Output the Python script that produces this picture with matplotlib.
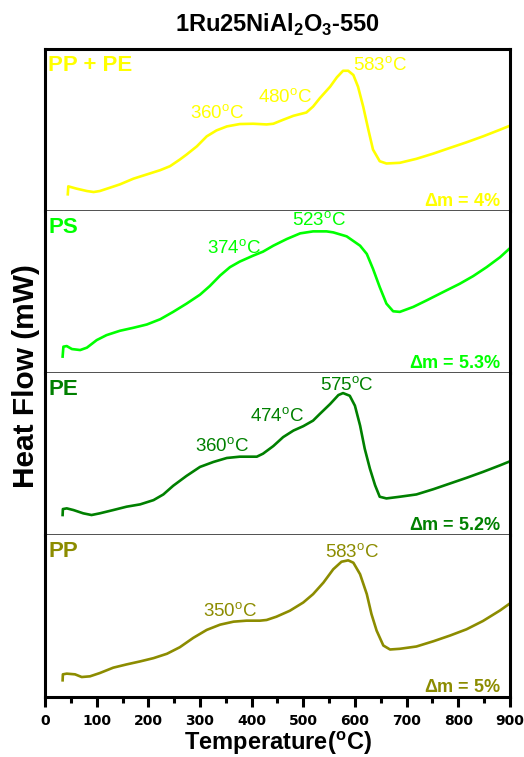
import matplotlib
matplotlib.use("Agg")
import matplotlib.pyplot as plt
from matplotlib import font_manager

# pick a condensed face for the in-panel labels if one is around
names = set(f.name for f in font_manager.fontManager.ttflist)
narrow = "Liberation Sans Narrow" if "Liberation Sans Narrow" in names else "Liberation Sans"
plt.rcParams["font.family"] = ["Liberation Sans", "DejaVu Sans"]
plt.rcParams["mathtext.fontset"] = "custom"
plt.rcParams["mathtext.rm"] = "Liberation Sans:bold"

# DSC traces, heat flow in arbitrary units (panel height ~163)
t_ppe = [44, 45, 61, 81, 94, 106, 126, 145, 171, 197, 223, 242, 261, 274, 294, 313, 332, 352, 377,
         403, 429, 442, 461, 481, 506, 519, 532, 552, 565, 577, 587, 597, 606, 616, 626, 635, 648,
         661, 687, 719, 752, 784, 816, 848, 881, 900]
hf_ppe = [17, 25, 22.7, 20.3, 19.3, 20.3, 23.7, 27, 32.7, 37, 41.3, 45.3, 52, 57, 65.3, 75.3, 81.3,
          85.3, 87.7, 88, 87.3, 88, 92, 96, 99.3, 105.3, 113.7, 125.3, 134.7, 141.3, 141.3, 137,
          125.3, 105.3, 82, 62, 50.3, 48, 48.7, 52.7, 58, 63.7, 69.3, 75.3, 82, 86]

t_ps = [34, 35.5, 42, 52, 68, 81, 100, 119, 145, 171, 197, 223, 248, 274, 300, 319, 339, 358, 377,
        403, 422, 442, 468, 494, 519, 545, 558, 584, 610, 623, 635, 648, 661, 674, 687, 713, 739,
        771, 803, 829, 855, 881, 900]
hf_ps = [16.7, 26.7, 27.3, 24.3, 23.3, 25.7, 33.3, 38.3, 42.7, 45.7, 49, 54.3, 61.7, 70, 79, 87.7,
         98.3, 106.7, 112.3, 118.3, 122.3, 128.3, 135, 140.7, 142.7, 142.7, 141.7, 137.7, 128.3,
         120, 105, 86.7, 70, 62.3, 61.7, 66.7, 73.3, 81.7, 90, 97.7, 106.7, 116.7, 125.7]

t_pe = [34, 34.5, 42, 55, 74, 90, 106, 132, 158, 184, 210, 229, 248, 274, 300, 326, 352, 377, 410,
        422, 442, 461, 481, 500, 519, 532, 552, 568, 577, 590, 600, 610, 619, 629, 639, 648, 661,
        687, 719, 752, 784, 816, 848, 881, 900]
hf_pe = [20.3, 26.3, 27, 25.3, 22, 20.3, 22, 25.3, 28.7, 31, 35.3, 41, 49.7, 59.7, 68.7, 73.7, 77.7,
         79, 79, 82, 89.7, 98.7, 105.3, 109.7, 115.3, 122, 132, 141, 143, 140.3, 130.3, 110.3, 87,
         67, 50.3, 38.7, 37, 38.7, 41, 46.3, 52, 57.7, 63.7, 70.3, 74.3]

t_pp = [34, 34.5, 42, 58, 71, 87, 106, 132, 158, 184, 210, 236, 261, 287, 313, 339, 365, 390, 416,
        429, 448, 474, 500, 519, 539, 558, 574, 587, 597, 610, 623, 632, 642, 655, 668, 687, 719,
        752, 784, 816, 848, 881, 900]
hf_pp = [17, 23, 23.7, 23, 20.3, 21, 24.3, 29.7, 33, 36, 39.3, 43.7, 50.3, 59.7, 67.7, 73, 76, 77,
         77, 77.7, 81, 87, 95.3, 103.7, 115.3, 128.7, 136.3, 137.7, 135.3, 123.7, 103.7, 83.7, 67,
         52, 48, 48.7, 51, 56.3, 62, 68.3, 76.7, 87.3, 94.3]

names_pl = ["PP + PE", "PS", "PE", "PP"]
colors = ["#ffff00", "#00ff00", "#008000", "#8c8c00"]
mass_loss = ["4%", "5.3%", "5.2%", "5%"]
traces = [(t_ppe, hf_ppe), (t_ps, hf_ps), (t_pe, hf_pe), (t_pp, hf_pp)]
temp_ticks = list(range(0, 901, 100))

# peak labels: (temperature text, x of text, y of text)
peaks = [
    [("360", 281, 93), ("480", 412, 109), ("583", 596, 141)],
    [("374", 313, 120), ("523", 478, 148)],
    [("360", 290, 84), ("474", 397, 114), ("575", 532, 145)],
    [("350", 306, 81), ("583", 542, 140)],
]

fig, axes = plt.subplots(4, 1, figsize=(5.24, 7.57), dpi=100, sharex=True)
fig.subplots_adjust(left=0.086, right=0.973, top=0.935, bottom=0.079, hspace=0)

for i, ax in enumerate(axes):
    t, hf = traces[i]
    c = colors[i]
    ax.plot(t, hf, color=c, lw=1.9, solid_joinstyle="round")
    ax.set_xlim(0, 900)
    ax.set_ylim(0, 163)
    ax.set_yticks([])
    ax.text(6, 157, names_pl[i], color=c, fontsize=16, fontweight="bold", va="top", ha="left")
    ax.text(884, 5, "$\\Delta$m = " + mass_loss[i], color=c, fontsize=13, fontweight="bold",
            ha="right", va="baseline", family=[narrow, "DejaVu Sans"])
    for lab, x, y in peaks[i]:
        ax.text(x, y, lab + "$^{\\mathregular{o}}$C", color=c, fontsize=13.5,
                ha="left", va="baseline", family=[narrow, "DejaVu Sans"])
    for s in ("left", "right"):
        ax.spines[s].set_linewidth(2.2)
    if i > 0:
        ax.spines["top"].set_visible(False)
    else:
        ax.spines["top"].set_linewidth(2.2)
    if i < 3:
        ax.spines["bottom"].set_linewidth(1.2)
        ax.spines["bottom"].set_color("#333333")
        ax.tick_params(axis="x", which="both", bottom=False, labelbottom=False)
    else:
        ax.spines["bottom"].set_linewidth(2.2)

ax = axes[-1]
ax.set_xticks(temp_ticks, labels=[str(v) for v in temp_ticks], fontsize=10,
              fontweight="bold", fontfamily="DejaVu Sans")
ax.set_xticks(range(50, 900, 100), minor=True)
ax.tick_params(axis="x", which="major", direction="out", length=7, width=2.2, pad=5)
ax.tick_params(axis="x", which="minor", direction="out", length=4, width=2.2)
ax.set_xlabel("Temperature($^{\\mathregular{o}}$C)", fontsize=17, fontweight="bold", labelpad=1)

fig.text(0.05, 0.503, "Heat Flow (mW)", rotation=90, fontsize=21.5, fontweight="bold",
         ha="center", va="center")
fig.text(0.53, 0.967, "1Ru25NiAl$_{\\mathregular{2}}$O$_{\\mathregular{3}}$-550", fontsize=17,
         fontweight="bold", ha="center", va="center")

fig.savefig("out.png", dpi=100)
